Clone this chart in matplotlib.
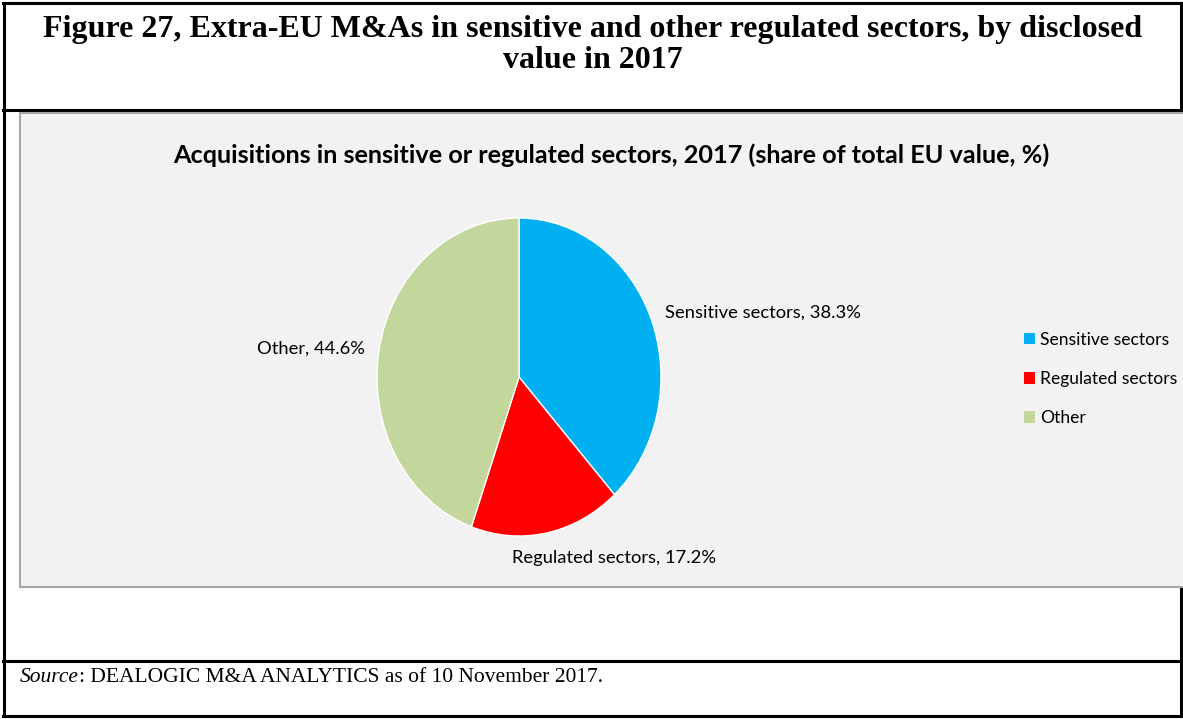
import matplotlib
matplotlib.use("Agg")
import matplotlib.pyplot as plt
from matplotlib.patches import Rectangle, Patch
from matplotlib.lines import Line2D

W, H = 1183, 719

sectors = ["Sensitive sectors", "Regulated sectors", "Other"]
shares = [38.3, 17.2, 44.6]
colors = ["#00B0F0", "#FF0000", "#C3D69B"]

fig_title = "Figure 27, Extra-EU M&As in sensitive and other regulated sectors, by disclosed\nvalue in 2017"
chart_title = "Acquisitions in sensitive or regulated sectors, 2017 (share of total EU value, %)"
source_rest = ": DEALOGIC M&A ANALYTICS as of 10 November 2017."

SANS = "Lato"
SERIF = "Liberation Serif"


def fx(x):
    return x / W


def fy(y):
    return 1 - y / H


fig = plt.figure(figsize=(W / 100, H / 100), dpi=100)
fig.patch.set_facecolor("white")


def hline(y, x0=3, x1=1182, lw=2.2):
    fig.add_artist(Line2D([fx(x0), fx(x1)], [fy(y), fy(y)], color="black", lw=lw,
                          transform=fig.transFigure, zorder=0.4))


def vline(x, y0=3, y1=716, lw=2.2):
    fig.add_artist(Line2D([fx(x), fx(x)], [fy(y0), fy(y1)], color="black", lw=lw,
                          transform=fig.transFigure, zorder=0.4))


# document frame
hline(3)
hline(110)
hline(661)
hline(716)
vline(4)
vline(1181)

# grey chart area
fig.add_artist(Rectangle((fx(20), fy(587)), fx(1215) - fx(20), fy(113) - fy(587),
                         facecolor="#F2F2F2", edgecolor="#A6A6A6", lw=1.5,
                         transform=fig.transFigure, zorder=0.5))

fig.text(fx(593), fy(45), fig_title, ha="center", va="center", family=SERIF,
         weight="bold", fontsize=23, linespacing=1.08)

fig.text(fx(611), fy(155), chart_title, ha="center", va="center", family=SANS,
         weight="bold", fontsize=18.2)

# pie
ax = fig.add_axes([fx(377), fy(536), (661 - 377) / W, (536 - 218) / H], zorder=2)
wedges, _ = ax.pie(shares, colors=colors, startangle=90, counterclock=False,
                   wedgeprops=dict(edgecolor="white", linewidth=1.0))
ax.set_aspect("auto")
ax.set_xlim(-1, 1)
ax.set_ylim(-1, 1)
ax.axis("off")

label_pos = [(665, 313, "left"), (512, 558, "left"), (365, 349, "right")]
for name, val, (x, y, ha) in zip(sectors, shares, label_pos):
    fig.text(fx(x), fy(y), f"{name}, {val}%", ha=ha, va="center", family=SANS,
             fontsize=13.2, zorder=3)

handles = [Patch(facecolor=c) for c in colors]
fig.legend(handles, sectors, loc="center left", bbox_to_anchor=(fx(1024), fy(379)),
           frameon=False, prop=dict(family=SANS, size=12.6), handlelength=0.62,
           handleheight=0.62, handletextpad=0.3, labelspacing=1.32, borderpad=0,
           borderaxespad=0)

# source line
src = fig.text(fx(20), fy(678), "Source", ha="left", va="center", family=SERIF,
               style="italic", fontsize=15.5)
fig.canvas.draw()
bb = src.get_window_extent()
fig.text(bb.x1 / W, fy(678), source_rest, ha="left", va="center", family=SERIF,
         fontsize=15.5)

fig.savefig("out.png", dpi=100)
